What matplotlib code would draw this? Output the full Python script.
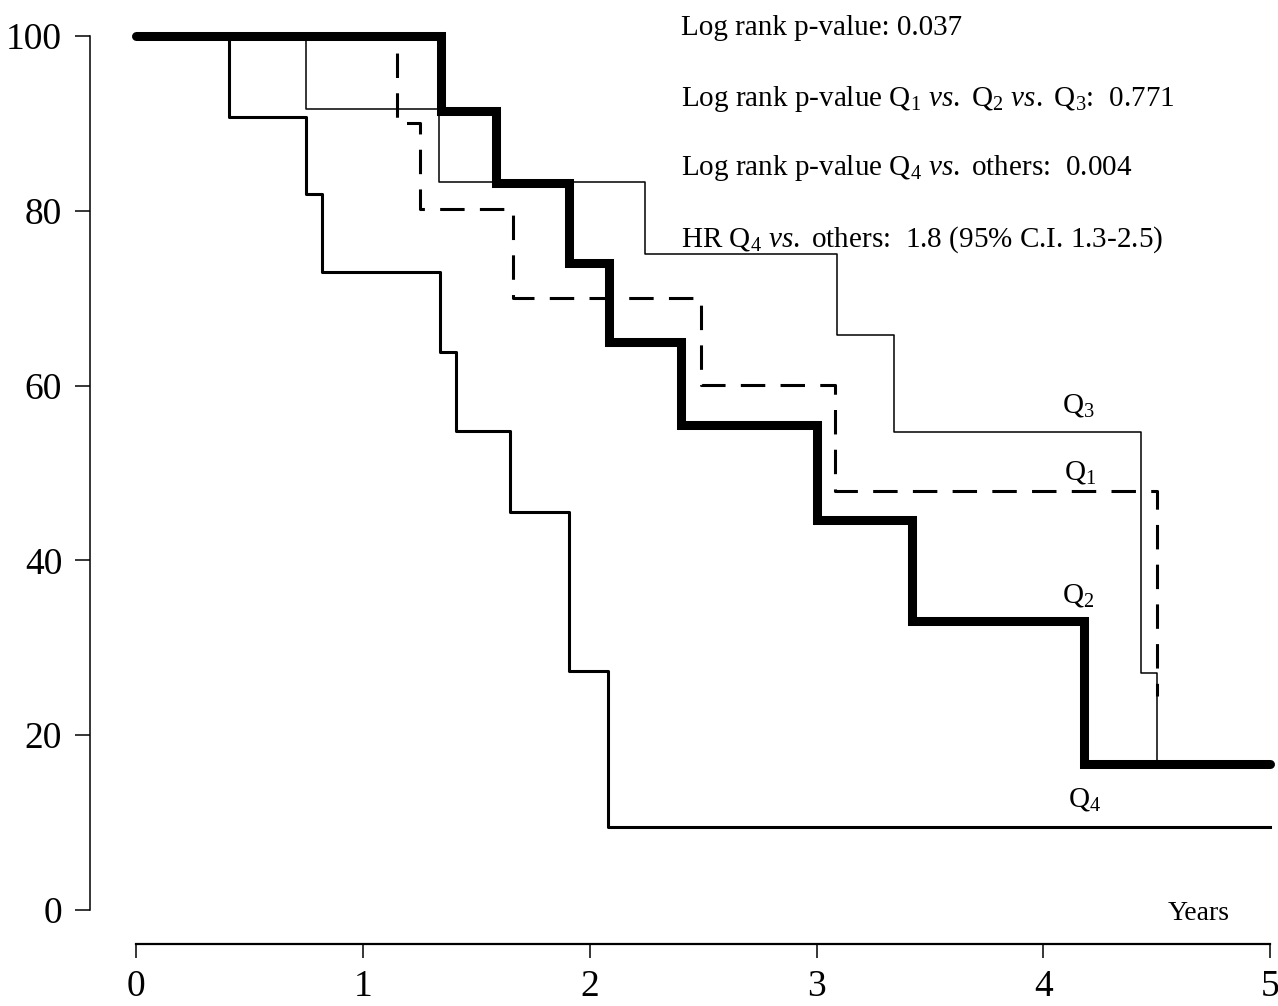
"""Kaplan-Meier style survival curves by quartile (Q1-Q4)."""

import matplotlib
matplotlib.use("Agg")
import matplotlib.pyplot as plt

plt.rcParams["font.family"] = ["Liberation Serif", "DejaVu Serif"]
plt.rcParams["mathtext.fontset"] = "custom"
plt.rcParams["mathtext.rm"] = "Liberation Serif"
plt.rcParams["mathtext.it"] = "Liberation Serif:italic"

# event times (years) and survival (%)
q1_t = [0, 1.15, 1.25, 1.66, 2.49, 3.08, 4.50]
q1_s = [100, 90.0, 80.2, 70.0, 60.1, 47.9, 24.5]

q2_t = [0, 1.345, 1.587, 1.909, 2.085, 2.403, 3.0, 3.42, 4.18, 5.0]
q2_s = [100, 91.4, 83.2, 74.0, 65.0, 55.5, 44.6, 33.1, 16.7, 16.7]

q3_t = [0, 0.75, 1.335, 2.245, 3.09, 3.34, 4.43, 4.50]
q3_s = [100, 91.6, 83.3, 75.0, 65.8, 54.7, 27.1, 16.7]

q4_t = [0, 0.41, 0.75, 0.82, 1.34, 1.41, 1.65, 1.91, 2.08, 5.0]
q4_s = [100, 90.7, 81.9, 73.0, 63.8, 54.8, 45.5, 27.3, 9.5, 9.5]

x_ticks = [0, 1, 2, 3, 4, 5]
y_ticks = [0, 20, 40, 60, 80, 100]

stats_lines = [
    "Log rank p-value: 0.037",
    r"Log rank p-value Q$_1$ $\mathit{vs.}$ Q$_2$ $\mathit{vs.}$ Q$_3$:  0.771",
    r"Log rank p-value Q$_4$ $\mathit{vs.}$ others:  0.004",
    r"HR Q$_4$ $\mathit{vs.}$ others:  1.8 (95% C.I. 1.3-2.5)",
]
stats_y = [100.1, 92.0, 84.1, 75.9]

curve_labels = ["Q$_3$", "Q$_1$", "Q$_2$", "Q$_4$"]
label_xy = [(4.08, 56.9), (4.09, 49.2), (4.08, 35.2), (4.11, 11.8)]

fig = plt.figure(figsize=(12.78, 10.06), dpi=100)
ax = fig.add_axes([0.0704, 0.0616, 0.9296 - 0.0025, 0.9374])

ax.step(q4_t, q4_s, where="post", color="black", lw=2.2, zorder=2)
ax.step(q3_t, q3_s, where="post", color="black", lw=1.1, zorder=3)
ax.step(q1_t, q1_s, where="post", color="black", lw=2.2,
        linestyle=(0, (8, 5)), zorder=4)
ax.step(q2_t, q2_s, where="post", color="black", lw=6.5,
        solid_capstyle="round", solid_joinstyle="miter", zorder=5)

ax.set_xlim(-0.203, 5.02)
ax.set_ylim(-3.9, 104)

for sp in ["top", "right"]:
    ax.spines[sp].set_visible(False)
ax.spines["left"].set_bounds(0, 100)
ax.spines["bottom"].set_bounds(0, 5)
ax.spines["left"].set_linewidth(1.1)
ax.spines["bottom"].set_linewidth(1.6)

ax.set_xticks(x_ticks)
ax.set_yticks(y_ticks)
ax.tick_params(axis="y", direction="out", length=11, width=1.1,
               pad=9, labelsize=27)
ax.tick_params(axis="x", direction="out", length=10, width=1.1,
               pad=8, labelsize=27)

for txt, yy in zip(stats_lines, stats_y):
    ax.text(2.403, yy, txt, fontsize=21, ha="left", va="baseline")

for txt, (xx, yy) in zip(curve_labels, label_xy):
    ax.text(xx, yy, txt, fontsize=21, ha="left", va="baseline")

ax.text(4.546, -1.1, "Years", fontsize=20, ha="left", va="baseline")

fig.savefig("out.png", dpi=100)
